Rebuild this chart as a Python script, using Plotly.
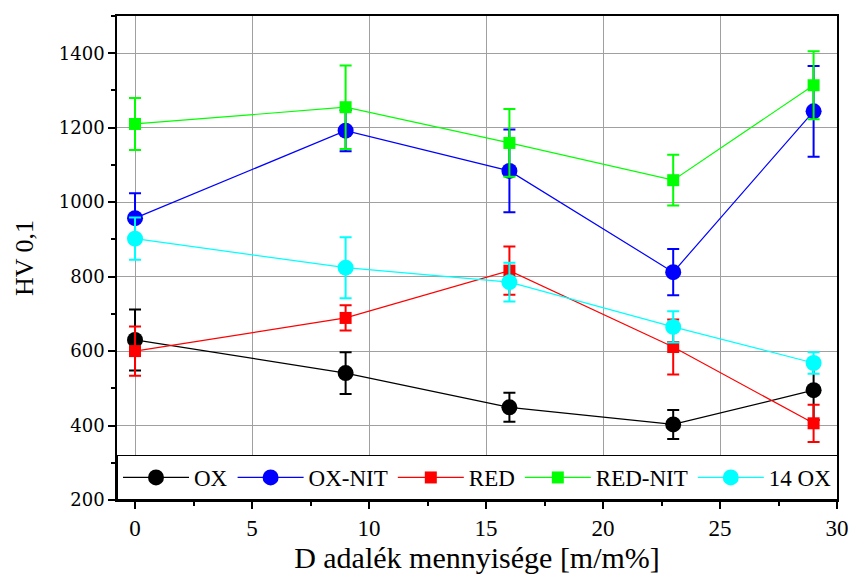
import plotly.graph_objects as go

x_vals = [0, 9, 16, 23, 29]

ox = [630, 541, 449, 403, 495]
ox_err = [82, 56, 39, 39, 80]

ox_nit = [957, 1192, 1084, 812, 1244]
ox_nit_err = [67, 55, 111, 62, 122]

red = [600, 689, 816, 611, 406]
red_err = [66, 34, 65, 74, 50]

red_nit = [1210, 1255, 1159, 1059, 1314]
red_nit_err = [70, 112, 91, 68, 91]

ox14 = [902, 824, 785, 665, 568]
ox14_err = [57, 82, 52, 42, 29]

series = [
    ("OX", ox, ox_err, "#000000", "circle", 16),
    ("OX-NIT", ox_nit, ox_nit_err, "#0000ff", "circle", 16),
    ("RED", red, red_err, "#ff0000", "square", 12),
    ("RED-NIT", red_nit, red_nit_err, "#00ff00", "square", 12),
    ("14 OX", ox14, ox14_err, "#00ffff", "circle", 16),
]

fig = go.Figure()
for name, y, err, col, sym, sz in series:
    fig.add_trace(go.Scatter(
        x=x_vals, y=y, name=name, mode="lines+markers",
        line=dict(color=col, width=1.2),
        marker=dict(color=col, symbol=sym, size=sz),
        error_y=dict(type="data", array=err, visible=True, color=col,
                     thickness=2, width=6),
    ))

fig.update_layout(
    width=849, height=574,
    margin=dict(l=117, r=12, t=16, b=74),
    plot_bgcolor="white", paper_bgcolor="white",
    font=dict(family="Liberation Serif", color="black", size=22),
    showlegend=True,
    legend=dict(
        orientation="h", x=0, y=0, xanchor="left", yanchor="bottom",
        bgcolor="white", bordercolor="black", borderwidth=1,
        font=dict(family="Liberation Serif", size=23),
        itemwidth=66, tracegroupgap=0,
    ),
    xaxis=dict(
        range=[-0.77, 30], tickmode="array", tickvals=[0, 5, 10, 15, 20, 25, 30],
        automargin=False,
        showgrid=True, gridcolor="#a0a0a0", gridwidth=1.2,
        showline=True, linecolor="black", linewidth=1.5, mirror=True,
        ticks="outside", ticklen=7, tickwidth=1.5, tickcolor="black",
        minor=dict(ticks="outside", ticklen=4, tickwidth=1.5, dtick=2.5, tick0=0, tickcolor="black", showgrid=False),
        tickfont=dict(family="Liberation Serif", size=23),
        zeroline=False,
        title=dict(text="D adalék mennyisége [m/m%]", font=dict(family="Liberation Serif", size=30), standoff=10),
    ),
    yaxis=dict(
        range=[200, 1500], tickmode="array", tickvals=[200, 400, 600, 800, 1000, 1200, 1400],
        automargin=False,
        showgrid=True, gridcolor="#a0a0a0", gridwidth=1.2,
        showline=True, linecolor="black", linewidth=1.5, mirror=True,
        ticks="outside", ticklen=7, tickwidth=1.5, tickcolor="black",
        minor=dict(ticks="outside", ticklen=4, tickwidth=1.5, dtick=100, tick0=0, tickcolor="black", showgrid=False),
        tickfont=dict(family="DejaVu Serif", size=18),
        zeroline=False,
        title=dict(text="HV 0,1", font=dict(family="Liberation Serif", size=26), standoff=18),
    ),
)

fig.write_html("out.html")
